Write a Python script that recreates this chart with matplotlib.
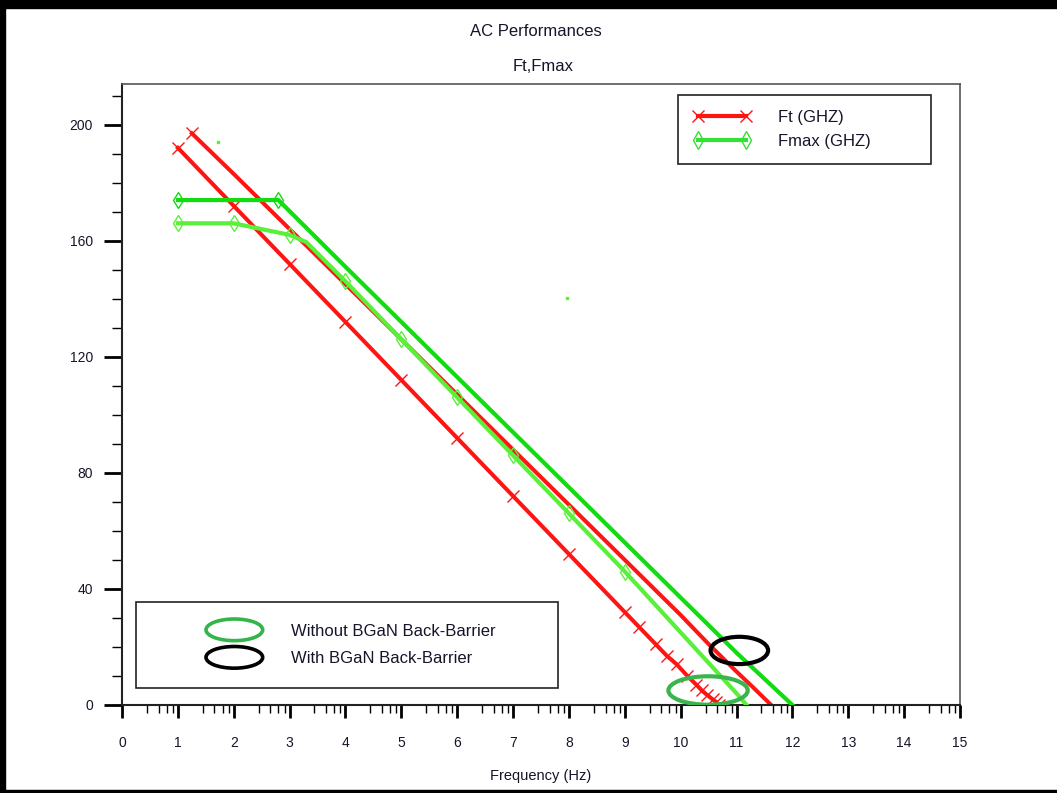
import matplotlib
matplotlib.use('Agg')
import matplotlib.pyplot as plt
from matplotlib.patches import Ellipse, Rectangle
from matplotlib.lines import Line2D
from matplotlib.legend_handler import HandlerPatch

plt.rcParams['font.family'] = ['Liberation Sans', 'DejaVu Sans']

# ---------------- data (x = log10 of frequency) ----------------
ft_a_x = [1, 2, 3, 4, 5, 6, 7, 8, 9, 9.25, 9.55, 9.75, 9.93, 10.12, 10.28, 10.38, 10.47, 10.57, 10.64, 10.68]
ft_a_y = [192, 172, 152, 132, 112, 92, 72, 52, 32, 27, 21, 17, 14, 10, 7, 5, 3.5, 2, 1, 0]

ft_b_x = [1.25, 2, 3, 4, 5, 6, 7, 8, 9, 10, 10.5, 11, 11.3, 11.62]
ft_b_y = [197, 183, 164, 145, 126, 107, 88, 69, 50, 31, 21, 11.5, 6, 0]

fmax_a_x = [1, 1.5, 2, 2.5, 3, 3.3, 4, 5, 6, 7, 8, 9, 10, 10.5, 11, 11.18]
fmax_a_y = [166, 166, 166, 164, 162, 159.5, 146, 126, 106, 86, 66, 46, 25, 14.5, 4, 0]
fmax_a_marks = [0, 2, 4, 6, 7, 8, 9, 10, 11]

fmax_b_x = [1, 2, 2.8, 4, 5, 6, 7, 8, 9, 10, 11, 12]
fmax_b_y = [174, 174, 174, 151, 132, 113, 94, 75, 56, 37, 18, 0]

stray_x = [1.72, 7.97]
stray_y = [194, 140.3]

x_ticks = list(range(0, 16))
y_ticks = [0, 40, 80, 120, 160, 200]

RED = '#ff1414'
GREEN_B = '#10dc10'
GREEN_A = '#5af03a'
TXT = '#15152a'

fig = plt.figure(figsize=(10.57, 7.93), dpi=100)
ax = fig.add_axes([122/1057, 1-705/793, 838/1057, 621/793])

# red curves (Ft)
ax.plot(ft_a_x, ft_a_y, color=RED, lw=2.9, marker='x', ms=8, mew=1.0, zorder=2)
ax.plot(ft_b_x, ft_b_y, color=RED, lw=2.9, marker='x', ms=9, mew=1.0, markevery=[0], zorder=2)
# green curves (Fmax)
ax.plot(fmax_a_x, fmax_a_y, color=GREEN_A, lw=3.0, marker='d', ms=8, mew=1.0, mfc='none',
        markevery=fmax_a_marks, zorder=3)
ax.plot(fmax_b_x, fmax_b_y, color=GREEN_B, lw=3.0, marker='d', ms=8, mew=1.0, mfc='none',
        markevery=[0, 2], zorder=3)
ax.plot(stray_x, stray_y, ls='none', marker='s', ms=1.5, color=GREEN_A, zorder=3)

# annotation ellipses
ax.add_patch(Ellipse((10.49, 5.0), 1.42, 9.8, fill=False, ec='#3cb44e', lw=3.0, zorder=4))
ax.add_patch(Ellipse((11.05, 18.8), 1.03, 9.4, fill=False, ec='black', lw=3.0, zorder=4))

# axes
ax.set_xlim(0, 15)
ax.set_ylim(0, 214)
ax.set_xticks(x_ticks)
ax.set_xticks([d + f for d in range(15) for f in (0.445, 0.655, 0.80, 0.91)], minor=True)
ax.set_yticks(y_ticks)
ax.set_yticks([v for v in range(0, 211, 10) if v % 40], minor=True)
ax.tick_params(axis='x', which='major', length=9, width=2.0, pad=13, labelsize=10, labelcolor=TXT)
ax.tick_params(axis='x', which='minor', length=5.5, width=1.0)
ax.tick_params(axis='y', which='major', length=13, width=2.0, pad=8, labelsize=10, labelcolor=TXT)
ax.tick_params(axis='y', which='minor', length=7, width=1.0)
for s in ('left', 'bottom'):
    ax.spines[s].set_linewidth(1.5)
    ax.spines[s].set_color('#222222')
for s in ('top', 'right'):
    ax.spines[s].set_linewidth(1.2)
    ax.spines[s].set_color('#555555')

ax.set_xlabel('Frequency (Hz)', fontsize=10.5, color=TXT)
ax.xaxis.label.set_va('center')
ax.xaxis.set_label_coords(0.5, (705-776)/621)

ax.set_title('AC Performances', fontsize=12, color=TXT, x=0.494, y=(705-32)/621, va='center', pad=0)
ax.text(0.503, (705-66)/621, 'Ft,Fmax', transform=ax.transAxes, ha='center', va='center',
        fontsize=12, color=TXT)

# legend 1
h1 = Line2D([], [], color=RED, lw=3.0, marker='x', ms=9, mew=1.0)
h2 = Line2D([], [], color='#33e033', lw=3.0, marker='d', ms=9, mew=1.0, mfc='none')
leg1 = ax.legend([h1, h2], ['Ft (GHZ)', 'Fmax (GHZ)'], loc='upper left', mode='expand',
                 bbox_to_anchor=(678/1057, 1-166/793, 253/1057, 71/793),
                 bbox_transform=fig.transFigure, numpoints=2, fontsize=12,
                 handlelength=3.5, handletextpad=1.6, borderpad=0.9, labelspacing=0.55,
                 borderaxespad=0, fancybox=False, framealpha=1, edgecolor='#222222')
leg1.get_frame().set_linewidth(1.2)
for t in leg1.get_texts():
    t.set_color(TXT)
ax.add_artist(leg1)


# legend 2 with ellipse handles
def make_ellipse(legend, orig_handle, xdescent, ydescent, width, height, fontsize):
    w = 3.4 * fontsize
    return Ellipse((width - xdescent - 0.5*w, 0.5*height - ydescent), w, 1.3*fontsize)


e1 = Ellipse((0, 0), 1, 1, fill=False, ec='#33b54a', lw=2.6)
e2 = Ellipse((0, 0), 1, 1, fill=False, ec='black', lw=2.6)
leg2 = ax.legend([e1, e2], ['Without BGaN Back-Barrier', 'With BGaN Back-Barrier'],
                 loc='upper left', mode='expand',
                 bbox_to_anchor=(136/1057, 1-691/793, 422/1057, 89/793),
                 bbox_transform=fig.transFigure, fontsize=12,
                 handler_map={Ellipse: HandlerPatch(patch_func=make_ellipse)},
                 handlelength=6.3, handletextpad=1.7, borderpad=1.3, labelspacing=0.75,
                 borderaxespad=0, fancybox=False, framealpha=1, edgecolor='#222222')
leg2.get_frame().set_linewidth(1.2)
for t in leg2.get_texts():
    t.set_color(TXT)

# figure border
fig.patches.append(Rectangle((0, 1-8/793), 1, 8/793, transform=fig.transFigure, color='black'))
fig.patches.append(Rectangle((0, 0), 5/1057, 1, transform=fig.transFigure, color='black'))
fig.patches.append(Rectangle((0, 0), 1, 3/793, transform=fig.transFigure, color='black'))

fig.savefig('out.png', dpi=100)
